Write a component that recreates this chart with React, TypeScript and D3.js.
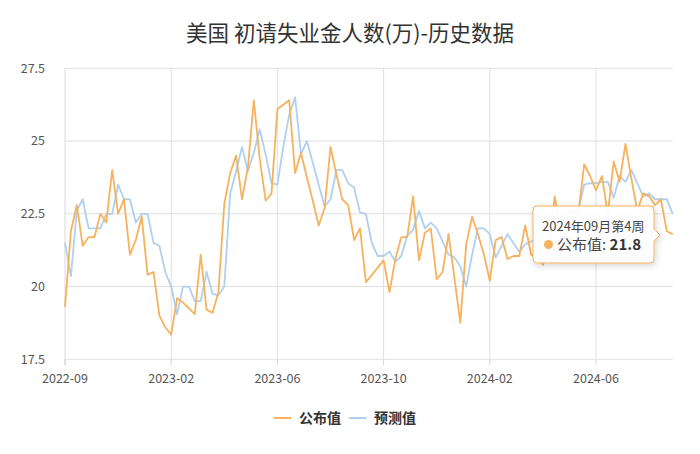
import React from "react";
import * as d3 from "d3";

const title = "美国 初请失业金人数(万)-历史数据";
const seriesNames = ["公布值", "预测值"];
const actual = [
  19.3, 21.9, 22.8, 21.4, 21.7, 21.7, 22.5, 22.2, 24.0, 22.5,
  23.0, 21.1, 21.6, 22.4, 20.4, 20.5, 19.0, 18.6, 18.35, 19.6,
  19.45, 19.25, 19.05, 21.1, 19.2, 19.1, 19.8, 22.85, 23.9, 24.5,
  23.0, 24.1, 26.4, 24.4, 22.95, 23.2, 26.1, 26.25, 26.4, 23.9,
  24.6, 23.75, 22.95, 22.1, 22.7, 24.8, 23.85, 23.0, 22.8, 21.6,
  22.0, 20.15, 20.4, 20.65, 20.9, 19.8, 20.95, 21.7, 21.7, 23.1,
  20.9, 21.85, 22.0, 20.25, 20.5, 21.8, 20.3, 18.75, 21.45, 22.4,
  21.8, 21.1, 20.2, 21.6, 21.7, 20.95, 21.05, 21.05, 22.1, 21.1,
  21.0, 20.75, 21.2, 23.1, 22.0, 22.3, 22.6, 22.5, 24.2, 23.8,
  23.3, 23.8, 22.5, 24.3, 23.6, 24.9, 23.7, 22.6, 23.2, 23.1,
  22.8, 23.0, 21.9, 21.8,
];
const forecast = [
  21.5, 20.35, 22.6, 23.0, 22.0, 22.0, 22.0, 22.5, 22.5, 23.5,
  23.0, 23.0, 22.2, 22.5, 22.5, 21.5, 21.4, 20.5, 20.0, 19.05,
  20.0, 20.0, 19.5, 19.5, 20.5, 19.75, 19.7, 20.0, 23.2, 23.95,
  24.8, 23.95, 24.6, 25.4, 24.55, 23.55, 23.5, 24.8, 25.9, 26.5,
  24.55, 25.0, 24.25, 23.5, 22.75, 23.0, 24.0, 24.0, 23.55, 23.4,
  22.55, 22.5, 21.5, 21.05, 21.05, 21.2, 20.85, 21.05, 21.75, 21.95,
  22.6, 22.0, 22.2, 22.0, 21.55, 21.1, 21.0, 20.7, 20.0, 21.1,
  22.0, 22.0, 21.8, 21.0, 21.4, 21.8, 21.5, 21.2, 21.45, 21.55,
  21.6, 21.7, 21.9, 22.1, 22.3, 22.2, 22.4, 22.6, 23.5, 23.55,
  23.55, 23.6, 23.6, 23.05, 23.8, 23.6, 24.0, 23.55, 23.1, 23.2,
  23.0, 23.0, 23.0, 22.5,
];
const xTickIndex = [0, 18, 36, 54, 72, 90];
const xTickLabels = ["2022-09", "2023-02", "2023-06", "2023-10", "2024-02", "2024-06"];
const yTicks = [17.5, 20, 22.5, 25, 27.5];
const tooltipTitle = "2024年09月第4周";
const tooltipValue = "21.8";

const ORANGE = "#F6B25C";
const BLUE = "#AFD0EF";
const FONT = "'Noto Sans CJK SC', 'Noto Sans', sans-serif";

export default function App() {
  const left = 65, right = 672.7, top = 68.3, bottom = 359.3;
  const idx = actual.map((_, i) => i);
  const x = d3.scalePoint<number>().domain(idx).range([left, right]);
  const y = d3.scaleLinear().domain([17.5, 27.5]).range([bottom, top]);
  const line = d3.line<number>().x((_, i) => x(i) as number).y((d) => y(d));

  const tx = 533, ty = 206, tw = 121, th = 57;
  const arrowY = 235;

  return (
    <svg width={700} height={454} style={{ position: "absolute", left: 0, top: 0 }} fontFamily={FONT}>
      <defs>
        <filter id="sh" x="-20%" y="-20%" width="140%" height="160%">
          <feDropShadow dx="1" dy="2" stdDeviation="3" floodColor="#000" floodOpacity="0.18" />
        </filter>
      </defs>
      <rect width={700} height={454} fill="#fff" />
      <text x={350} y={41} textAnchor="middle" fontSize={21.5} fill="#333">{title}</text>

      {yTicks.map((t) => (
        <g key={t}>
          <line x1={left} x2={right} y1={y(t)} y2={y(t)} stroke="#e0e0e0" strokeWidth={1} />
          <text x={45} y={y(t)} dy="0.35em" textAnchor="end" fontSize={12.5} fill="#555">{t}</text>
        </g>
      ))}
      <line x1={left} x2={left} y1={top} y2={bottom + 6} stroke="#d8d8d8" />
      {xTickIndex.map((ti, k) => (
        <g key={ti}>
          {k > 0 && <line x1={x(ti)} x2={x(ti)} y1={top} y2={bottom} stroke="#e0e0e0" />}
          <line x1={x(ti)} x2={x(ti)} y1={bottom} y2={bottom + 6} stroke="#d8d8d8" />
          <text x={x(ti)} y={383} textAnchor="middle" fontSize={12.5} fill="#555">{xTickLabels[k]}</text>
        </g>
      ))}

      <path d={line(forecast) || ""} fill="none" stroke={BLUE} strokeWidth={1.8} strokeLinejoin="round" />
      <path d={line(actual) || ""} fill="none" stroke={ORANGE} strokeWidth={1.8} strokeLinejoin="round" />

      <g filter="url(#sh)">
        <path
          d={`M${tx + 4},${ty} H${tx + tw - 4} Q${tx + tw},${ty} ${tx + tw},${ty + 4} V${arrowY - 6} L${tx + tw + 6},${arrowY} L${tx + tw},${arrowY + 6} V${ty + th - 4} Q${tx + tw},${ty + th} ${tx + tw - 4},${ty + th} H${tx + 4} Q${tx},${ty + th} ${tx},${ty + th - 4} V${ty + 4} Q${tx},${ty} ${tx + 4},${ty} Z`}
          fill="rgba(255,255,255,0.96)"
          stroke={ORANGE}
          strokeWidth={1}
        />
      </g>
      <text x={542} y={231} fontSize={13} fill="#444">{tooltipTitle}</text>
      <circle cx={548.5} cy={244.5} r={4.5} fill={ORANGE} />
      <text x={557} y={250} fontSize={15} fill="#444">
        {seriesNames[0]}:{" "}
        <tspan fontWeight="bold" fill="#333">{tooltipValue}</tspan>
      </text>

      <g>
        <line x1={274} x2={291.5} y1={418} y2={418} stroke={ORANGE} strokeWidth={2} />
        <text x={299} y={418} dy="0.35em" fontSize={14} fontWeight="bold" fill="#333">{seriesNames[0]}</text>
        <line x1={349} x2={366.5} y1={418} y2={418} stroke={BLUE} strokeWidth={2} />
        <text x={374} y={418} dy="0.35em" fontSize={14} fontWeight="bold" fill="#333">{seriesNames[1]}</text>
      </g>
    </svg>
  );
}
